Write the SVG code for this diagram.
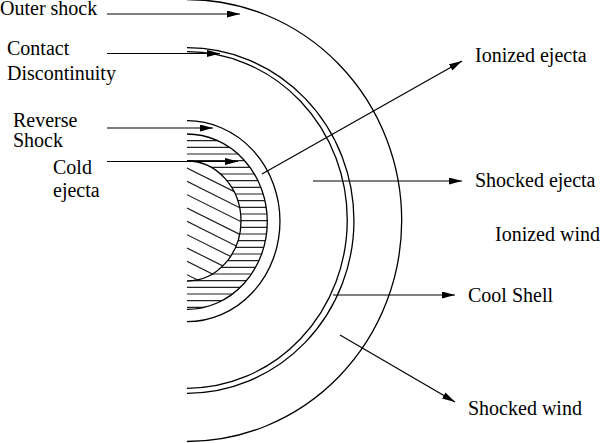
<svg xmlns="http://www.w3.org/2000/svg" width="600" height="443" viewBox="0 0 600 443">
<style>
.arc{fill:none;stroke:#000;stroke-width:1.3}
.hat{stroke:#222;stroke-width:1.2}
.arr{fill:none;stroke:#000;stroke-width:1.2;marker-end:url(#ah)}
.lbl{font-family:"Liberation Serif","Times New Roman",serif;font-size:20px;fill:#000}
</style>
<defs>
<marker id="ah" markerUnits="userSpaceOnUse" markerWidth="14" markerHeight="8" refX="13" refY="3.5" orient="auto">
<path d="M0,0 L13,3.5 L0,7 z" fill="#000"/>
</marker>
<clipPath id="clipBC"><path clip-rule="evenodd" d="M187,134 A80.3,87.7 0 0 1 187,309.4 Z M187,161 A54,60 0 0 1 187,281 Z"/></clipPath>
<clipPath id="clipC"><path d="M187,161 A54,60 0 0 1 187,281 Z"/></clipPath>
</defs>
<rect width="600" height="443" fill="#fff"/>
<g id="hatching-shocked-ejecta" clip-path="url(#clipBC)" class="hat">
<path d="M187,140.7H280M187,147.3H280M187,154H280M187,160.7H280M187,167.3H280M187,174H280M187,180.7H280M187,187.3H280M187,194H280M187,200.7H280M187,207.3H280M187,214H280M187,220.7H280M187,227.3H280M187,234H280M187,240.7H280M187,247.3H280M187,254H280M187,260.7H280M187,267.3H280M187,274H280M187,280.7H280M187,287.3H280M187,294H280M187,300.7H280M187,307.3H280"/>
</g>
<g id="hatching-cold-ejecta" clip-path="url(#clipC)" class="hat">
<path d="M187,168L260,204.5M187,181.3L260,217.8M187,194.7L260,231.2M187,208L260,244.5M187,221.3L260,257.8M187,234.7L260,271.2M187,248L260,284.5M187,261.3L260,297.8M187,274.7L260,311.2"/>
</g>
<g id="outer-shock"><path class="arc" d="M187,-0.5 A214.7,221 0 0 1 187,441.5"/></g>
<g id="contact-discontinuity">
<path class="arc" d="M187,47.7 A167,172.8 0 0 1 187,393.3"/>
<path class="arc" d="M187,51.7 A160.3,168.3 0 0 1 187,388.3"/>
</g>
<g id="reverse-shock">
<path class="arc" d="M187,120.7 A93,100.5 0 0 1 187,321.7"/>
<path class="arc" d="M187,134 A80.3,87.7 0 0 1 187,309.4"/>
</g>
<g id="cold-ejecta-boundary"><path class="arc" d="M187,161 A54,60 0 0 1 187,281"/></g>
<g id="connectors">
<path class="arr" d="M107,14H240"/>
<path class="arr" d="M107,53.5H220"/>
<path class="arr" d="M107,128H213"/>
<path class="arr" d="M107,161.5H238"/>
<path class="arr" d="M262,174L462,61"/>
<path class="arr" d="M313,181H462"/>
<path class="arr" d="M333,295H455"/>
<path class="arr" d="M340,335L455,402"/>
</g>
<g id="labels" class="lbl">
<text x="0" y="15">Outer shock</text>
<text x="7" y="55">Contact</text>
<text x="7" y="80">Discontinuity</text>
<text x="13" y="127">Reverse</text>
<text x="13" y="147">Shock</text>
<text x="53" y="174">Cold</text>
<text x="53" y="197">ejecta</text>
<text x="475" y="62">Ionized ejecta</text>
<text x="475" y="187">Shocked ejecta</text>
<text x="495" y="241">Ionized wind</text>
<text x="468" y="302">Cool Shell</text>
<text x="468" y="415">Shocked wind</text>
</g>
</svg>
